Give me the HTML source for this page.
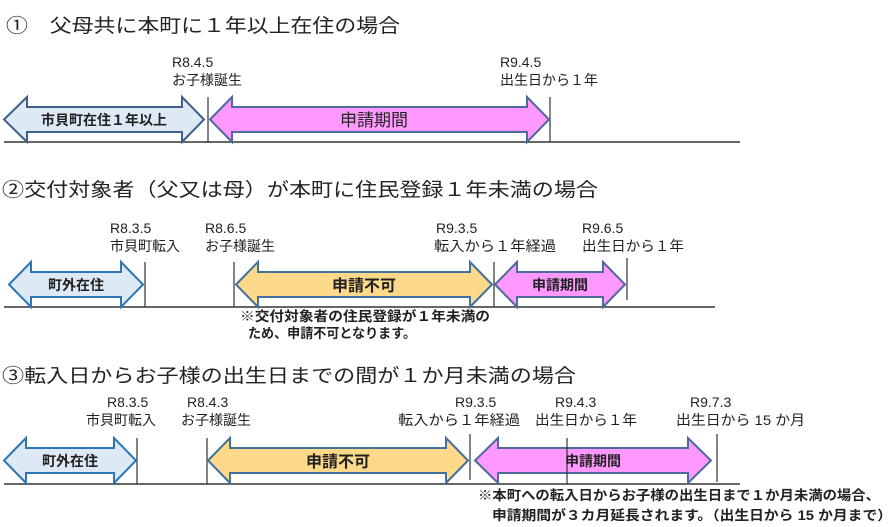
<!DOCTYPE html>
<html><head><meta charset="utf-8"><style>
html,body{margin:0;padding:0;background:#fff;}
svg{display:block;font-family:"Liberation Sans","Noto Sans CJK JP",sans-serif;}
.t{font-size:19px;fill:#222;}
.l{font-size:14px;fill:#222;}
.b{font-size:14px;font-weight:bold;fill:#222;}
.n{font-size:13.5px;font-weight:bold;fill:#222;}
</style></head><body>
<svg width="896" height="527" viewBox="0 0 896 527" xmlns="http://www.w3.org/2000/svg">
<!-- Section 1 -->
<text class="t" x="6" y="32" textLength="394" lengthAdjust="spacingAndGlyphs">①　父母共に本町に１年以上在住の場合</text>
<text class="l" x="172" y="67">R8.4.5</text>
<text class="l" x="172" y="85">お子様誕生</text>
<text class="l" x="500" y="67">R9.4.5</text>
<text class="l" x="500" y="85">出生日から１年</text>
<line x1="4" y1="142" x2="740" y2="142" stroke="#333" stroke-width="1.5"/>
<line x1="208" y1="97" x2="208" y2="142" stroke="#333" stroke-width="1.2"/>
<line x1="550" y1="97" x2="550" y2="142" stroke="#333" stroke-width="1.2"/>
<polygon points="4,119.5 27,97 27,107 182,107 182,97 204,119.5 182,142 182,132 27,132 27,142" fill="#dde9f5" stroke="#3e5f8a" stroke-width="2"/>
<text class="b" x="104" y="125" text-anchor="middle">市貝町在住１年以上</text>
<polygon points="210,119.5 232,97 232,107 527,107 527,97 549,119.5 527,142 527,132 232,132 232,142" fill="#ff99ff" stroke="#4e6a9a" stroke-width="2"/>
<text x="374" y="126" text-anchor="middle" style="font-size:17px;fill:#222">申請期間</text>

<!-- Section 2 -->
<text class="t" x="2" y="196" textLength="596" lengthAdjust="spacingAndGlyphs">②交付対象者（父又は母）が本町に住民登録１年未満の場合</text>
<text class="l" x="110" y="233">R8.3.5</text>
<text class="l" x="110" y="251">市貝町転入</text>
<text class="l" x="205" y="233">R8.6.5</text>
<text class="l" x="205" y="251">お子様誕生</text>
<text class="l" x="436" y="233">R9.3.5</text>
<text class="l" x="434" y="251" textLength="122" lengthAdjust="spacingAndGlyphs">転入から１年経過</text>
<text class="l" x="582" y="233">R9.6.5</text>
<text class="l" x="582" y="251" textLength="102" lengthAdjust="spacingAndGlyphs">出生日から１年</text>
<line x1="4" y1="307" x2="715" y2="307" stroke="#333" stroke-width="1.5"/>
<line x1="145" y1="262" x2="145" y2="307" stroke="#333" stroke-width="1.2"/>
<line x1="234" y1="262" x2="234" y2="307" stroke="#333" stroke-width="1.2"/>
<line x1="494" y1="262" x2="494" y2="307" stroke="#333" stroke-width="1.2"/>
<line x1="627" y1="258" x2="627" y2="300" stroke="#333" stroke-width="1.2"/>
<polygon points="9,284.5 31,262 31,272 121,272 121,262 143,284.5 121,307 121,297 31,297 31,307" fill="#dde9f5" stroke="#2e75b6" stroke-width="2"/>
<text class="b" x="76" y="290" text-anchor="middle">町外在住</text>
<polygon points="236,284.5 258,262 258,272 470,272 470,262 492,284.5 470,307 470,297 258,297 258,307" fill="#ffd98a" stroke="#41719c" stroke-width="2"/>
<text x="364" y="291" text-anchor="middle" style="font-size:16px;font-weight:bold;fill:#222">申請不可</text>
<polygon points="495,284.5 517,262 517,272 603,272 603,262 625,284.5 603,307 603,297 517,297 517,307" fill="#ff99ff" stroke="#4e6a9a" stroke-width="2"/>
<text class="b" x="560" y="290" text-anchor="middle">申請期間</text>
<text class="n" x="240" y="321" textLength="250" lengthAdjust="spacingAndGlyphs">※交付対象者の住民登録が１年未満の</text>
<text class="n" x="248" y="338" textLength="168" lengthAdjust="spacingAndGlyphs">ため、申請不可となります。</text>

<!-- Section 3 -->
<text class="t" x="2" y="382" textLength="574" lengthAdjust="spacingAndGlyphs">③転入日からお子様の出生日までの間が１か月未満の場合</text>
<text class="l" x="107" y="407">R8.3.5</text>
<text class="l" x="86" y="425">市貝町転入</text>
<text class="l" x="187" y="407">R8.4.3</text>
<text class="l" x="181" y="425">お子様誕生</text>
<text class="l" x="455" y="407">R9.3.5</text>
<text class="l" x="398" y="425" textLength="122" lengthAdjust="spacingAndGlyphs">転入から１年経過</text>
<text class="l" x="555" y="407">R9.4.3</text>
<text class="l" x="535" y="425" textLength="102" lengthAdjust="spacingAndGlyphs">出生日から１年</text>
<text class="l" x="690" y="407">R9.7.3</text>
<text class="l" x="676" y="425" textLength="129" lengthAdjust="spacingAndGlyphs">出生日から 15 か月</text>
<line x1="4" y1="484" x2="740" y2="484" stroke="#333" stroke-width="1.5"/>
<line x1="137" y1="438" x2="137" y2="484" stroke="#333" stroke-width="1.2"/>
<line x1="207" y1="438" x2="207" y2="484" stroke="#333" stroke-width="1.2"/>
<line x1="470" y1="434" x2="470" y2="480" stroke="#333" stroke-width="1.2"/>
<line x1="717" y1="434" x2="717" y2="482" stroke="#333" stroke-width="1.2"/>
<polygon points="4,460.5 26,438 26,448 114,448 114,438 136,460.5 114,483 114,473 26,473 26,483" fill="#dde9f5" stroke="#2e75b6" stroke-width="2"/>
<text class="b" x="70" y="466" text-anchor="middle">町外在住</text>
<polygon points="208,460.5 230,438 230,448 446,448 446,438 468,460.5 446,483 446,473 230,473 230,483" fill="#ffd98a" stroke="#41719c" stroke-width="2"/>
<text x="338" y="467" text-anchor="middle" style="font-size:16px;font-weight:bold;fill:#222">申請不可</text>
<polygon points="475,460.5 498,438 498,448 688,448 688,438 711,460.5 688,483 688,473 498,473 498,483" fill="#ff99ff" stroke="#4e6a9a" stroke-width="2"/>
<line x1="567" y1="438" x2="567" y2="484" stroke="#333" stroke-width="1.2"/>
<text class="b" x="593" y="466" text-anchor="middle">申請期間</text>
<text class="n" x="478" y="500" textLength="402" lengthAdjust="spacingAndGlyphs">※本町への転入日からお子様の出生日まで１か月未満の場合、</text>
<text class="n" x="492" y="520" textLength="400" lengthAdjust="spacingAndGlyphs">申請期間が３カ月延長されます。（出生日から 15 か月まで）</text>
</svg>
</body></html>
